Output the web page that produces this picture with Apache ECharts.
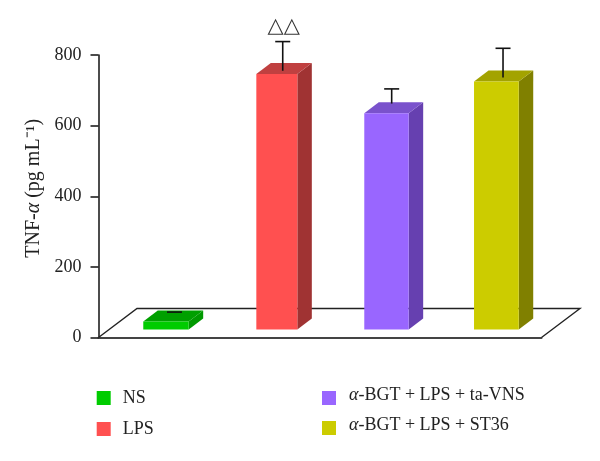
<!DOCTYPE html>
<html>
<head>
<meta charset="utf-8">
<style>html,body{margin:0;padding:0;background:#fff}#c{width:600px;height:461px}</style>
<script src="https://cdn.jsdelivr.net/npm/echarts@6/dist/echarts.min.js"></script>
</head>
<body>
<div id="c"></div>
<script>
const categories = ['NS', 'LPS', 'α-BGT + LPS + ta-VNS', 'α-BGT + LPS + ST36'];
const means = [45, 746, 635, 725];
const errorTops = [72, 838, 704, 819];
const sigMarks = ['', '△△', '', ''];
const yTicks = [0, 200, 400, 600, 800];
const frontColors = ['#00cc00', '#ff5050', '#9966ff', '#cccc00'];
const topColors = ['#00a000', '#c04040', '#7a52cc', '#a3a300'];
const sideColors = ['#009900', '#a03333', '#6640b0', '#808000'];

const SERIF = '"Liberation Serif", serif';
const DX = 14.5, DY = 11, BASE = 8;
// drawing geometry per bar, relative to the band centre: left edge, width, error-stem x, stem foot above bar top
const barLeft = [-10.6, -8.3, -11.1, -12.1];
const barWidth = [45.4, 41, 44.4, 44.7];
const stemX = [20.6, 18.1, 16.3, 16.9];
const stemFoot = [9.5, 3.3, 9.7, 4];

function barRender(i) {
  return function (params, api) {
    const c = api.coord([api.value(0), api.value(1)]);
    const zero = api.coord([api.value(0), 0]);
    const err = api.coord([api.value(0), api.value(2)]);
    const l = c[0] + barLeft[i], r = l + barWidth[i], t = c[1], b = zero[1] - BASE;
    const sx = c[0] + stemX[i], sy = t - stemFoot[i];
    const kids = [
      { type: 'polygon', shape: { points: [[r, t], [r + DX, t - DY], [r + DX, b - DY], [r, b]] }, style: { fill: sideColors[i] } },
      { type: 'polygon', shape: { points: [[l, t], [l + DX, t - DY], [r + DX, t - DY], [r, t]] }, style: { fill: topColors[i] } },
      { type: 'rect', shape: { x: l, y: t, width: barWidth[i], height: b - t }, style: { fill: frontColors[i] } },
      { type: 'line', shape: { x1: sx, y1: sy, x2: sx, y2: err[1] }, style: { stroke: '#111', lineWidth: 1.6 } },
      { type: 'line', shape: { x1: sx - 7.5, y1: err[1], x2: sx + 7.5, y2: err[1] }, style: { stroke: '#111', lineWidth: 1.6 } }
    ];
    if (sigMarks[i]) {
      kids.push({ type: 'text', style: { x: sx + 1, y: err[1] - 5, text: sigMarks[i], align: 'center', verticalAlign: 'bottom', fill: '#333', font: '21px "DejaVu Sans"' } });
    }
    return { type: 'group', children: kids };
  };
}

const floorSeries = {
  type: 'custom', silent: true, data: [[0, 0, 0]], z: 1,
  renderItem: function (params) {
    const g = params.coordSys;
    const bottom = g.y + g.height, left = g.x, right = g.x + g.width;
    const dx = 38.5, dy = 29;
    return {
      type: 'polyline',
      shape: { points: [[left, bottom], [left + dx, bottom - dy], [right + dx, bottom - dy], [right, bottom]] },
      style: { stroke: '#222', lineWidth: 1.4, fill: null }
    };
  }
};

const barSeries = categories.map((name, i) => ({
  type: 'custom', name, z: 2,
  itemStyle: { color: frontColors[i] },
  renderItem: barRender(i),
  encode: { x: 0, y: 1 },
  data: [[i, means[i], errorTops[i]]]
}));

function legendFmt(n) { return n.startsWith('α') ? '{a|α}{b|' + n.slice(1) + '}' : '{b|' + n + '}'; }
function legendText(pad) {
  return {
    fontFamily: SERIF, fontSize: 18, color: '#222', padding: pad,
    rich: {
      a: { fontFamily: SERIF, fontStyle: 'italic', fontSize: 18, color: '#222' },
      b: { fontFamily: SERIF, fontSize: 18, color: '#222' }
    }
  };
}

const option = {
  backgroundColor: '#fff',
  animation: false,
  grid: { left: 98.5, top: 55, width: 443, height: 282.5 },
  xAxis: {
    type: 'category', data: categories,
    axisTick: { show: false }, axisLabel: { show: false },
    axisLine: { lineStyle: { color: '#444', width: 2 } }
  },
  yAxis: {
    type: 'value', min: 0, max: 800, interval: 200,
    splitLine: { show: false },
    axisLine: { show: true, lineStyle: { color: '#111', width: 1.5 } },
    axisTick: { show: true, length: 8, lineStyle: { color: '#111', width: 1.5 } },
    axisLabel: { margin: 17, fontFamily: SERIF, fontSize: 18, color: '#222', customValues: yTicks },
    name: '{b|TNF-}{a|α}{b| (pg mL⁻¹)}',
    nameLocation: 'middle', nameGap: 55, nameRotate: 90,
    nameTextStyle: {
      padding: [0, 0, 0, 16],
      rich: {
        a: { fontFamily: SERIF, fontStyle: 'italic', fontSize: 20, color: '#222' },
        b: { fontFamily: SERIF, fontSize: 20, color: '#222' }
      }
    }
  },
  legend: [
    {
      data: categories.slice(0, 2), orient: 'vertical', left: 91.7, top: 384,
      itemWidth: 14, itemHeight: 14, itemGap: 13, icon: 'rect', selectedMode: false,
      formatter: legendFmt, textStyle: legendText([0, 0, 0, 7])
    },
    {
      data: categories.slice(2), orient: 'vertical', left: 317, top: 381,
      itemWidth: 14, itemHeight: 14, itemGap: 11, icon: 'rect', selectedMode: false,
      formatter: legendFmt, textStyle: legendText([0, 0, 6, 8])
    }
  ],
  series: [floorSeries].concat(barSeries)
};
echarts.init(document.getElementById('c'), null, { renderer: 'canvas' }).setOption(option);
</script>
</body>
</html>
